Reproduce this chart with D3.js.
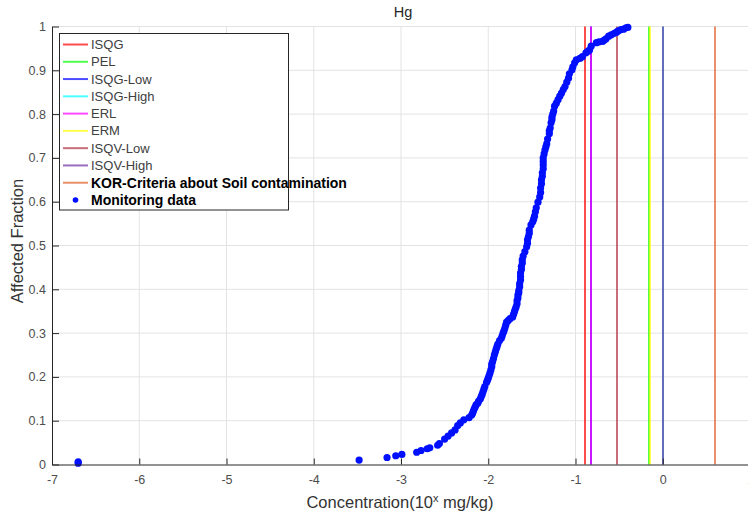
<!DOCTYPE html>
<html>
<head>
<meta charset="utf-8">
<script src="https://d3js.org/d3.v7.min.js"></script>
<style>
  body { margin: 0; background: #fff; }
  text { font-family: "Liberation Sans", Arial, sans-serif; }
</style>
</head>
<body>
<div id="chart"></div>
<script>
// guideline names, values (mg/kg) and colours
var guideNames = ["ISQG", "PEL", "ISQG-Low", "ISQG-High", "ERL", "ERM", "ISQV-Low", "ISQV-High", "KOR-Criteria about Soil contamination"];
var guideValues = [0.13, 0.7, 0.15, 1.0, 0.15, 0.71, 0.3, 1.0, 4.0];
var guideColors = ["#ff0000", "#00ff00", "#0000ff", "#00ffff", "#ff00ff", "#ffff00", "#b03040", "#7030a0", "#e0602a"];

var xTicks = [-7, -6, -5, -4, -3, -2, -1, 0, 1];
var yTicks = [0, 0.1, 0.2, 0.3, 0.4, 0.5, 0.6, 0.7, 0.8, 0.9, 1];

// monitoring data: [log10 concentration, affected fraction]
var monitoring = [
  [-6.70, 0.003], [-6.70, 0.006], [-3.48, 0.010], [-3.16, 0.016], [-3.06, 0.020], [-2.99, 0.023],
  [-2.82, 0.028], [-2.77, 0.032], [-2.70, 0.036], [-2.67, 0.038], [-2.58, 0.044], [-2.56, 0.048],
  [-2.50, 0.058], [-2.46, 0.065], [-2.42, 0.072], [-2.38, 0.079], [-2.35, 0.089], [-2.32, 0.095],
  [-2.28, 0.102], [-2.22, 0.107], [-2.19, 0.113], [-2.18, 0.117], [-2.17, 0.122], [-2.16, 0.127],
  [-2.15, 0.131], [-2.14, 0.136], [-2.12, 0.140], [-2.11, 0.145], [-2.09, 0.150], [-2.08, 0.155],
  [-2.07, 0.160], [-2.06, 0.166], [-2.05, 0.172], [-2.04, 0.178], [-2.02, 0.187], [-2.01, 0.192],
  [-2.00, 0.197], [-1.99, 0.203], [-1.98, 0.209], [-1.97, 0.216], [-1.96, 0.223], [-1.96, 0.229],
  [-1.95, 0.235], [-1.94, 0.242], [-1.93, 0.250], [-1.92, 0.256], [-1.91, 0.263], [-1.90, 0.269],
  [-1.89, 0.275], [-1.87, 0.283], [-1.85, 0.288], [-1.84, 0.294], [-1.83, 0.300], [-1.82, 0.305],
  [-1.81, 0.311], [-1.80, 0.318], [-1.79, 0.325], [-1.77, 0.329], [-1.75, 0.333], [-1.72, 0.337],
  [-1.71, 0.343], [-1.70, 0.349], [-1.69, 0.355], [-1.68, 0.360], [-1.67, 0.367], [-1.67, 0.374],
  [-1.66, 0.380], [-1.66, 0.387], [-1.65, 0.392], [-1.65, 0.397], [-1.64, 0.406], [-1.64, 0.413],
  [-1.63, 0.421], [-1.63, 0.429], [-1.63, 0.437], [-1.62, 0.445], [-1.62, 0.452], [-1.61, 0.460],
  [-1.61, 0.467], [-1.60, 0.476], [-1.58, 0.486], [-1.56, 0.497], [-1.55, 0.505], [-1.55, 0.513],
  [-1.54, 0.520], [-1.53, 0.528], [-1.53, 0.535], [-1.51, 0.547], [-1.49, 0.554], [-1.48, 0.560],
  [-1.47, 0.567], [-1.46, 0.577], [-1.45, 0.586], [-1.43, 0.599], [-1.41, 0.611], [-1.40, 0.621],
  [-1.40, 0.631], [-1.39, 0.641], [-1.39, 0.650], [-1.38, 0.658], [-1.38, 0.666], [-1.37, 0.675],
  [-1.37, 0.684], [-1.37, 0.692], [-1.37, 0.700], [-1.36, 0.709], [-1.35, 0.718], [-1.34, 0.725],
  [-1.33, 0.732], [-1.32, 0.743], [-1.30, 0.755], [-1.30, 0.762], [-1.29, 0.768], [-1.28, 0.780],
  [-1.27, 0.787], [-1.27, 0.793], [-1.26, 0.800], [-1.25, 0.807], [-1.24, 0.818], [-1.22, 0.825],
  [-1.20, 0.833], [-1.18, 0.841], [-1.16, 0.848], [-1.14, 0.856], [-1.12, 0.863], [-1.10, 0.873],
  [-1.08, 0.882], [-1.07, 0.892], [-1.04, 0.901], [-1.03, 0.908], [-1.01, 0.917], [-0.99, 0.924],
  [-0.95, 0.927], [-0.92, 0.931], [-0.88, 0.940], [-0.86, 0.943], [-0.84, 0.946], [-0.82, 0.955],
  [-0.76, 0.963], [-0.73, 0.965], [-0.69, 0.966], [-0.67, 0.969], [-0.65, 0.972], [-0.62, 0.978],
  [-0.59, 0.981], [-0.56, 0.984], [-0.53, 0.987], [-0.51, 0.990], [-0.48, 0.993], [-0.45, 0.994],
  [-0.42, 0.997], [-0.40, 0.998]
];

var W = 748, H = 518;
var plotL = 52, plotT = 26.5, plotR = 750, plotB = 464.5;

var svg = d3.select("#chart").append("svg")
    .attr("width", W)
    .attr("height", H);

var x = d3.scaleLinear().domain([-7, 1]).range([plotL, plotR]);
var y = d3.scaleLinear().domain([0, 1]).range([plotB, plotT]);

// grid
svg.append("g").selectAll("line")
    .data(xTicks.slice(1))
    .enter().append("line")
    .attr("x1", function (d) { return x(d); })
    .attr("x2", function (d) { return x(d); })
    .attr("y1", plotT).attr("y2", plotB)
    .attr("stroke", "#e3e3e3");

svg.append("g").selectAll("line")
    .data(yTicks.slice(1))
    .enter().append("line")
    .attr("x1", plotL).attr("x2", plotR)
    .attr("y1", function (d) { return y(d); })
    .attr("y2", function (d) { return y(d); })
    .attr("stroke", "#e3e3e3");

// guideline vertical lines
var guides = guideNames.map(function (n, i) {
    return { name: n, value: guideValues[i], color: guideColors[i] };
});

svg.append("g").selectAll("line")
    .data(guides)
    .enter().append("line")
    .attr("x1", function (d) { return Math.round(x(Math.log10(d.value))); })
    .attr("x2", function (d) { return Math.round(x(Math.log10(d.value))); })
    .attr("y1", plotT).attr("y2", plotB)
    .attr("stroke", function (d) { return d.color; })
    .attr("stroke-opacity", 0.7)
    .attr("stroke-width", 2);

// monitoring points
svg.append("g").selectAll("circle")
    .data(monitoring)
    .enter().append("circle")
    .attr("cx", function (d) { return x(d[0]); })
    .attr("cy", function (d) { return y(d[1]); })
    .attr("r", 3.6)
    .attr("fill", "#0010ff");

// axes (ticks inside, MATLAB style)
var xAxis = svg.append("g")
    .attr("transform", "translate(0," + plotB + ")")
    .call(d3.axisBottom(x).tickValues(xTicks).tickSizeInner(-6).tickSizeOuter(0).tickPadding(11)
        .tickFormat(d3.format("d")));
var yAxis = svg.append("g")
    .attr("transform", "translate(" + plotL + ",0)")
    .call(d3.axisLeft(y).tickValues(yTicks).tickSizeInner(-7).tickSizeOuter(0).tickPadding(6)
        .tickFormat(function (d) { return d3.format("")(d); }));

[xAxis, yAxis].forEach(function (a) {
    a.select(".domain").attr("stroke", "#262626");
    a.selectAll(".tick line").attr("stroke", "#262626");
    a.selectAll(".tick text")
        .attr("fill", "#4d4d4d")
        .style("font-size", "12.5px")
        .style("font-family", "'Liberation Sans', Arial, sans-serif");
});
xAxis.selectAll(".tick text").text(function (d) { return d < 0 ? "-" + Math.abs(d) : d; });

// title and axis labels
svg.append("text")
    .attr("x", 403).attr("y", 17)
    .attr("text-anchor", "middle")
    .style("font-size", "14.5px")
    .attr("fill", "#262626")
    .text("Hg");

var xl = svg.append("text")
    .attr("x", 400).attr("y", 508)
    .attr("text-anchor", "middle")
    .style("font-size", "16.5px")
    .attr("fill", "#333");
xl.append("tspan").text("Concentration(10");
xl.append("tspan").attr("dy", -6).style("font-size", "11px").text("x");
xl.append("tspan").attr("dy", 6).text(" mg/kg)");

svg.append("text")
    .attr("transform", "translate(23,241) rotate(-90)")
    .attr("text-anchor", "middle")
    .style("font-size", "16.5px")
    .attr("fill", "#333")
    .text("Affected Fraction");

// legend
var legend = svg.append("g");
legend.append("rect")
    .attr("x", 59.5).attr("y", 33.5)
    .attr("width", 229).attr("height", 176.5)
    .attr("fill", "#fff")
    .attr("stroke", "#262626");

var rowY = d3.scaleLinear().domain([0, 9]).range([44.5, 200]);

guides.forEach(function (g, i) {
    legend.append("line")
        .attr("x1", 63).attr("x2", 88)
        .attr("y1", rowY(i)).attr("y2", rowY(i))
        .attr("stroke", g.color)
        .attr("stroke-opacity", 0.7)
        .attr("stroke-width", 2);
    var bold = i === 8;
    legend.append("text")
        .attr("x", 91).attr("y", rowY(i) + (bold ? 5 : 4.5))
        .style("font-size", bold ? "14px" : "13px")
        .style("font-weight", bold ? "bold" : "normal")
        .attr("fill", bold ? "#000" : "#404040")
        .text(g.name);
});

legend.append("circle")
    .attr("cx", 75.5).attr("cy", rowY(9))
    .attr("r", 2.8)
    .attr("fill", "#0010ff");
legend.append("text")
    .attr("x", 91).attr("y", rowY(9) + 5)
    .style("font-size", "14px")
    .style("font-weight", "bold")
    .attr("fill", "#000")
    .text("Monitoring data");
</script>
</body>
</html>
